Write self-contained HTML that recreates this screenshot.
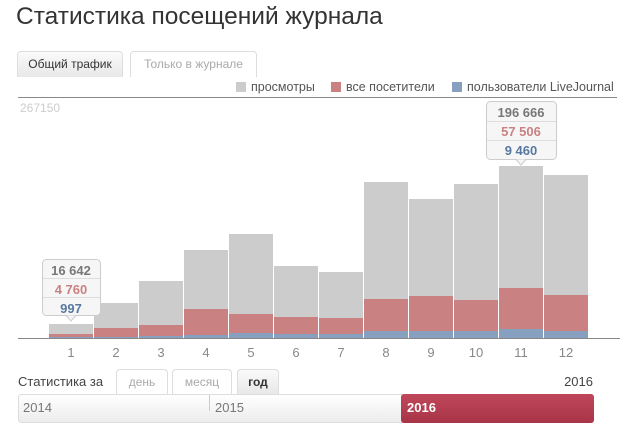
<!DOCTYPE html>
<html><head><meta charset="utf-8"><style>
body{margin:0;width:623px;height:433px;background:#fff;overflow:hidden;font-family:"Liberation Sans","DejaVu Sans",sans-serif;position:relative}
.a{position:absolute;white-space:nowrap}
.tab{position:absolute;border:1px solid #ddd;border-bottom:none;border-radius:4px 4px 0 0;font-size:12px;text-align:center;box-sizing:border-box}
</style></head><body>
<div class="a" style="left:16px;top:3px;font-size:24.5px;color:#333">Статистика посещений журнала</div>
<div class="tab" style="left:17px;top:51px;width:106px;height:26px;line-height:25px;background:linear-gradient(#fafafa,#e8e8e8);color:#333">Общий трафик</div>
<div class="tab" style="left:130px;top:51px;width:127px;height:26px;line-height:25px;background:#fff;color:#aaa">Только в журнале</div>
<svg class="a" style="left:0;top:0" width="623" height="433">
<g font-size="12.5" fill="#555">
<rect x="236" y="82" width="10" height="10" fill="#ccc"/><text x="251" y="91">просмотры</text>
<rect x="331" y="82" width="10" height="10" fill="#c98181"/><text x="346" y="91">все посетители</text>
<rect x="452" y="82" width="10" height="10" fill="#87a0c0"/><text x="467" y="91">пользователи LiveJournal</text>
</g>
<line x1="18" y1="97.5" x2="617" y2="97.5" stroke="#888" stroke-width="1"/>
<text x="20" y="112" font-size="12" fill="#ccc">267150</text>
<g id="bars"></g>
<line x1="18" y1="338.5" x2="620" y2="338.5" stroke="#888" stroke-width="1"/>
<g font-size="13" fill="#888" text-anchor="middle" id="lbl"></g>
<rect x="486.5" y="101.5" width="70" height="58" rx="4" fill="#f6f6f6" stroke="#ccc"/>
<path d="M516 159.5 L521 165 L526 159.5" fill="#f6f6f6" stroke="#ccc"/>
<line x1="487" y1="121.5" x2="556" y2="121.5" stroke="#ddd"/><line x1="487" y1="140.5" x2="556" y2="140.5" stroke="#ddd"/>
<g font-size="13" font-weight="bold" text-anchor="middle">
<text x="521" y="117" fill="#777">196 666</text><text x="521" y="136" fill="#c98181">57 506</text><text x="521" y="155" fill="#5878a0">9 460</text>
</g>
<rect x="42.5" y="259.5" width="58" height="56" rx="4" fill="#f6f6f6" stroke="#ccc"/>
<path d="M66 315.5 L71 321 L76 315.5" fill="#f6f6f6" stroke="#ccc"/>
<line x1="43" y1="278.5" x2="100" y2="278.5" stroke="#ddd"/><line x1="43" y1="297.5" x2="100" y2="297.5" stroke="#ddd"/>
<g font-size="13" font-weight="bold" text-anchor="middle">
<text x="71" y="275" fill="#777">16 642</text><text x="71" y="294" fill="#c98181">4 760</text><text x="71" y="313" fill="#5878a0">997</text>
</g>
<text x="18" y="386" font-size="13" fill="#444">Статистика за</text>
<text x="593" y="386" font-size="13" fill="#444" text-anchor="end">2016</text>
<defs><linearGradient id="g" x1="0" y1="0" x2="0" y2="1"><stop offset="0" stop-color="#fff"/><stop offset="1" stop-color="#ececec"/></linearGradient>
<linearGradient id="r" x1="0" y1="0" x2="0" y2="1"><stop offset="0" stop-color="#c0475a"/><stop offset="1" stop-color="#a83448"/></linearGradient></defs>
<rect x="18.5" y="394.5" width="575" height="28" rx="3" fill="url(#g)" stroke="#ddd"/>
<line x1="209.5" y1="395" x2="209.5" y2="411" stroke="#ccc"/>
<rect x="401" y="394" width="193" height="29" rx="3" fill="url(#r)"/>
<text x="23" y="412" font-size="13" fill="#777">2014</text>
<text x="215" y="412" font-size="13" fill="#777">2015</text>
<text x="407" y="412" font-size="13" fill="#fff" font-weight="bold">2016</text>
</svg>
<div class="tab" style="left:116px;top:369px;width:52px;height:25px;line-height:24px;color:#aaa;background:#fff">день</div>
<div class="tab" style="left:172px;top:369px;width:60px;height:25px;line-height:24px;color:#aaa;background:#fff">месяц</div>
<div class="tab" style="left:237px;top:369px;width:42px;height:25px;line-height:24px;color:#333;font-weight:bold;background:linear-gradient(#fafafa,#e8e8e8)">год</div>
<script>
var g=[324,303,281,250,234,266,272,182,199,184,166,175],r=[334,328,325,309,314,317,318,299,296,300,288,295],b=[337,337,336,335,333,334,334,331,331,331,329,331];
var s='',l='';
for(var i=0;i<12;i++){var x=49+i*45,w=44;
s+='<rect x="'+x+'" y="'+g[i]+'" width="'+w+'" height="'+(338-g[i])+'" fill="#ccc"/>';
s+='<rect x="'+x+'" y="'+r[i]+'" width="'+w+'" height="'+(338-r[i])+'" fill="#c98181"/>';
s+='<rect x="'+x+'" y="'+b[i]+'" width="'+w+'" height="'+(338-b[i])+'" fill="#87a0c0"/>';
l+='<text x="'+(x+22)+'" y="357">'+(i+1)+'</text>';}
document.getElementById('bars').innerHTML=s;document.getElementById('lbl').innerHTML=l;
</script>
</body></html>
